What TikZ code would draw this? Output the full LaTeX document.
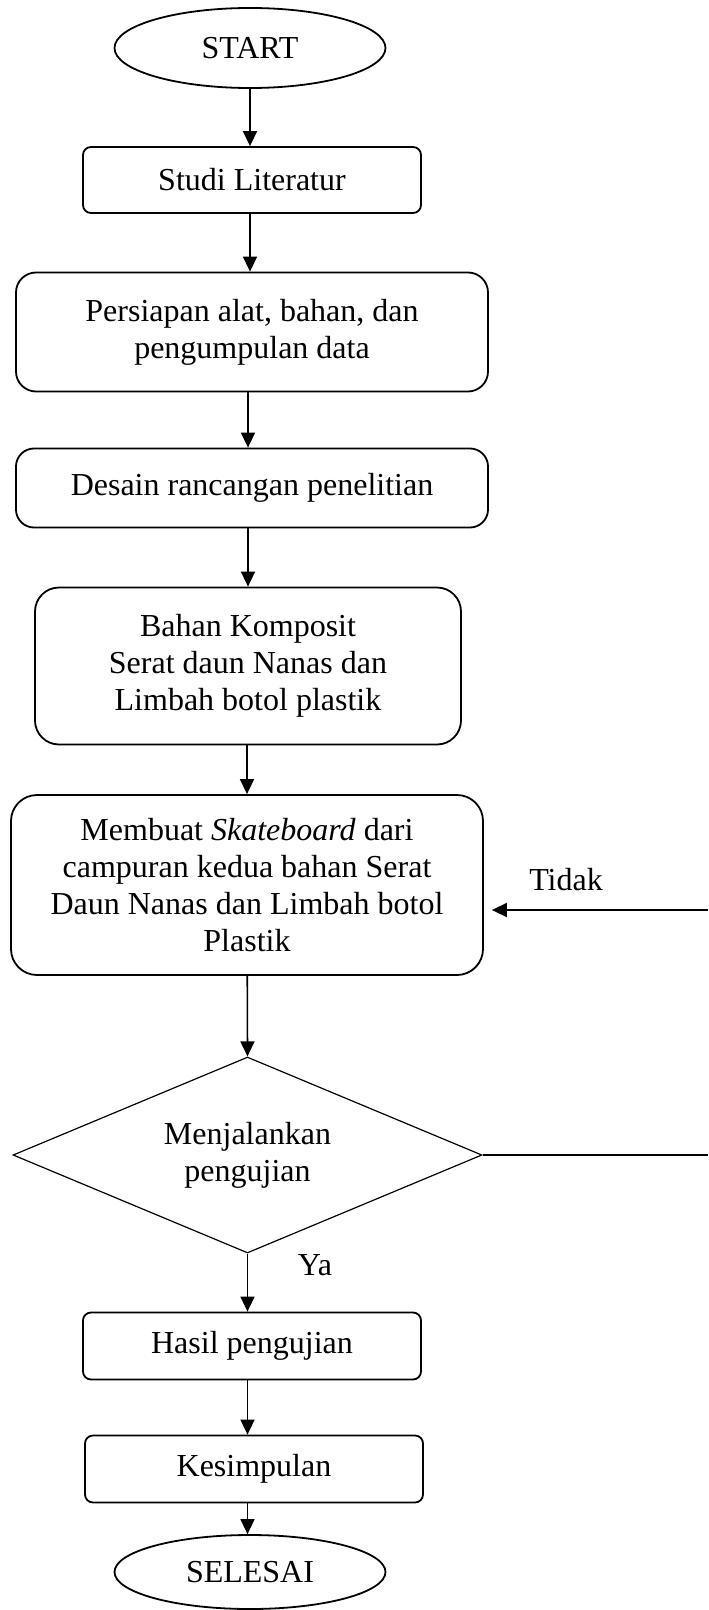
\documentclass[tikz,border=0pt]{standalone}
\usepackage{fontspec}
\setmainfont{Liberation Serif}
\usetikzlibrary{shapes.geometric,arrows.meta}

\tikzset{
  proses/.style={draw,line width=0.9pt,rounded corners=#1,align=center,inner sep=0pt},
  proses/.default=4pt,
  terminal/.style={draw,ellipse,line width=0.9pt,inner sep=0pt,minimum width=135.5pt,minimum height=40pt},
  keputusan/.style={draw,diamond,shape aspect=2.4,line width=0.6pt,align=center,inner sep=0pt,minimum width=234.5pt,minimum height=98pt},
  panah/.style={-{Triangle[length=7.5pt,width=7pt]},line width=0.8pt},
  garis/.style={line width=0.8pt}
}

\begin{document}
\begin{tikzpicture}[x=0.5pt,y=-0.5pt,font=\fontsize{16}{18.4}\selectfont]
  \useasboundingbox (0,0) rectangle (708,1610);
  \node[terminal] (start) at (250,48) {START};
  \node[proses,minimum width=169pt,minimum height=33pt] (studi) at (252,180) {Studi Literatur};
  \node[proses=10pt,minimum width=236pt,minimum height=59.5pt] (persiapan) at (252,332) {Persiapan alat, bahan, dan\\pengumpulan data};
  \node[proses=9pt,minimum width=236pt,minimum height=39.5pt] (desain) at (252,488) {Desain rancangan penelitian};
  \node[proses=12pt,minimum width=213pt,minimum height=78.5pt] (bahan) at (248,666) {Bahan Komposit\\Serat daun Nanas dan\\Limbah botol plastik};
  \node[proses=13pt,minimum width=236pt,minimum height=90pt] (membuat) at (247,885) {Membuat \textit{Skateboard} dari\\campuran kedua bahan Serat\\Daun Nanas dan Limbah botol\\Plastik};
  \node[keputusan] (uji) at (247.5,1155) {Menjalankan\\pengujian};
  \node[proses,minimum width=169pt,minimum height=33.5pt] (hasil) at (252,1346) {Hasil pengujian};
  \node[proses,minimum width=169pt,minimum height=33.5pt] (simpul) at (254,1469) {Kesimpulan};
  \node[terminal,minimum height=37pt] (selesai) at (250,1572) {SELESAI};
  \node (tidak) at (566,880) {Tidak};
  \node (ya) at (315,1265) {Ya};
  \coordinate (kanan1) at (708,1155);
  \coordinate (kanan2) at (708,910);

  \draw[panah] (start) -- (start |- studi.north);
  \draw[panah] (start |- studi.south) -- (start |- persiapan.north);
  \draw[panah] (persiapan.south -| bahan) -- (desain.north -| bahan);
  \draw[panah] (desain.south -| bahan) -- (bahan.north);
  \draw[panah] (bahan.south -| membuat) -- (membuat.north);
  \draw[panah] (membuat) -- (uji.north);
  \draw[panah] (uji) -- (uji |- hasil.north);
  \draw[panah] (hasil.south -| uji) -- (simpul.north -| uji);
  \draw[panah] (simpul.south -| uji) -- (selesai.north -| uji);
  \draw[garis] (uji.east) -- (kanan1);
  \draw[panah,shorten >=4pt] (kanan2) -- (kanan2 -| membuat.east);
\end{tikzpicture}
\end{document}
